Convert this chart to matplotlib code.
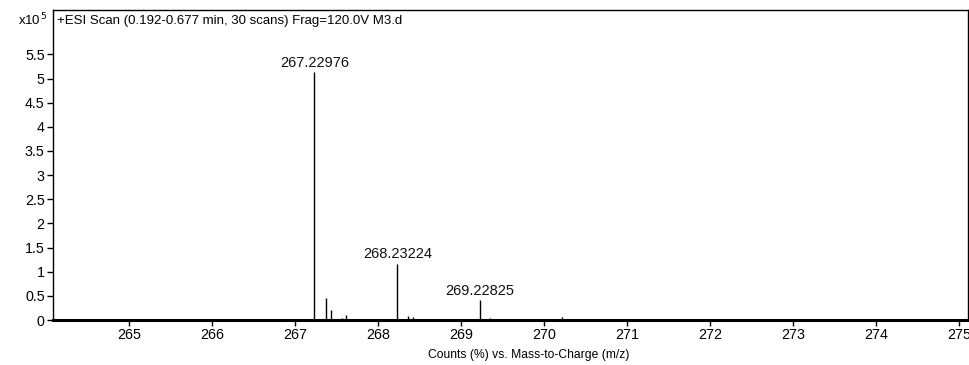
import numpy as np
import matplotlib.pyplot as plt
from matplotlib.ticker import FuncFormatter

# peaks (m/z, counts)
mz = [267.22976, 267.37, 267.43, 267.56, 267.61, 268.23224, 268.36, 268.42,
      269.22825, 269.35, 270.22]
counts = [5.13e5, 0.46e5, 0.21e5, 0.05e5, 0.10e5, 1.17e5, 0.09e5, 0.07e5,
          0.42e5, 0.04e5, 0.07e5]
labelled = [267.22976, 268.23224, 269.22825]

title = "+ESI Scan (0.192-0.677 min, 30 scans) Frag=120.0V M3.d"
xlabel = "Counts (%) vs. Mass-to-Charge (m/z)"

plt.rcParams['font.family'] = ['Liberation Sans', 'DejaVu Sans']
plt.rcParams['font.size'] = 9

W, H = 969, 365
fig = plt.figure(figsize=(W / 100, H / 100), dpi=100)
ax = fig.add_axes([53 / W, 1 - 320 / H, 915 / W, 310 / H])

ax.vlines(mz, 0, counts, color='black', lw=1)
for m, c in zip(mz, counts):
    if m in labelled:
        ax.annotate(f"{m:.5f}", (m, c), xytext=(0, 1.5), textcoords='offset points',
                    ha='center', va='bottom', fontsize=10.5, color='#111111')

ax.set_xlim(264.08, 275.11)
ax.set_ylim(0, 6.42e5)
ax.set_xticks(np.arange(265, 276))
ax.set_yticks(np.arange(0, 5.6e5, 0.5e5))
ax.yaxis.set_major_formatter(FuncFormatter(lambda v, p: f"{v / 1e5:g}"))
ax.tick_params(axis='both', direction='out', length=4, width=1, labelsize=10.3,
               colors='black', pad=2)

for s in ['top', 'right', 'left']:
    ax.spines[s].set_linewidth(1)
ax.spines['bottom'].set_linewidth(2.2)

ax.text(0.004, 0.985, title, transform=ax.transAxes, ha='left', va='top', fontsize=9.5)
fig.text(33 / W, 1 - 20 / H, r"x10$^{\,5}$", ha='center', va='center', fontsize=9.5)
fig.text(529 / W, 1 - 355 / H, xlabel, ha='center', va='center', fontsize=8.7)

fig.savefig('out.png', dpi=100)
